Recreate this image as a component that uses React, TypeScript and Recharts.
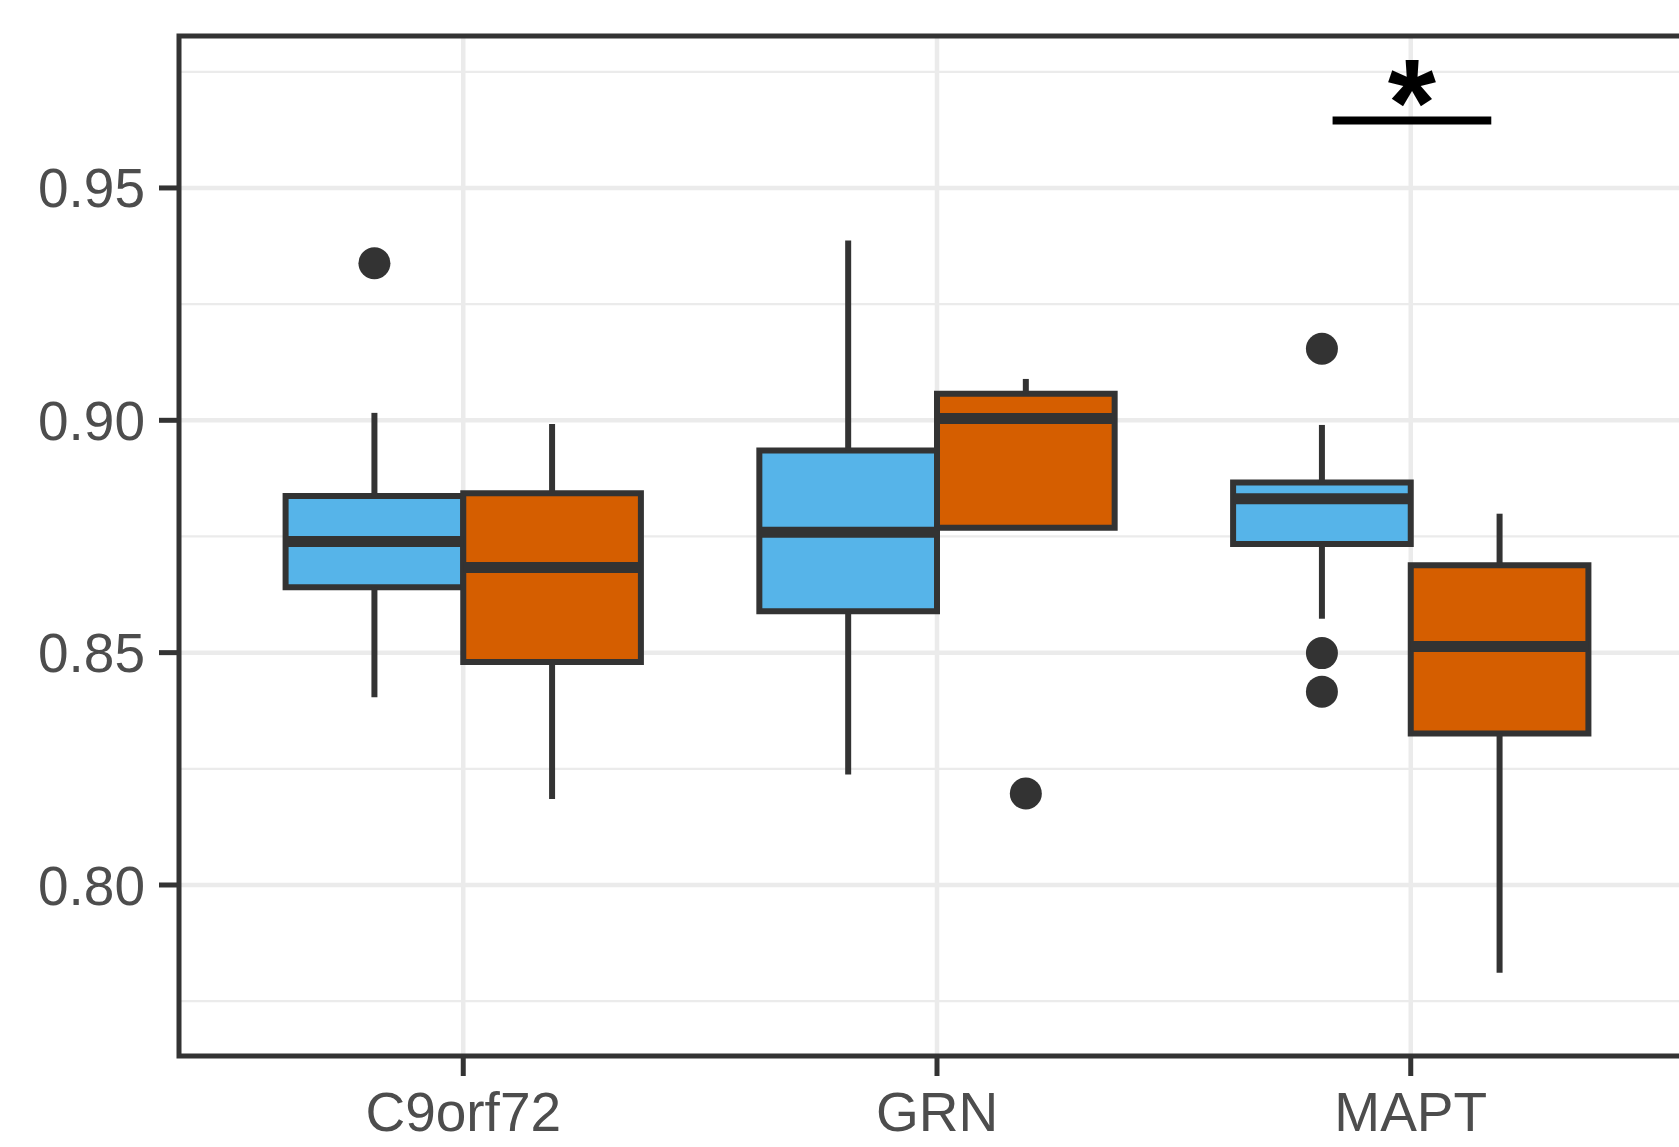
import React from 'react';
import {
  ComposedChart,
  XAxis,
  YAxis,
  CartesianGrid,
  ReferenceArea,
  ReferenceLine,
  Scatter,
} from 'recharts';

// categories on the x axis
const genes = ['C9orf72', 'GRN', 'MAPT'];

// first group (blue) box stats, one value per gene
const blueLower = [0.8404, 0.8238, 0.8573];
const blueQ1 = [0.8641, 0.8589, 0.8734];
const blueMedian = [0.8739, 0.8759, 0.8831];
const blueQ3 = [0.8837, 0.8935, 0.8866];
const blueUpper = [0.9016, 0.9387, 0.899];
const blueOutliers = [[0.9338], [], [0.9154, 0.8499, 0.8416]];

// second group (orange) box stats
const orangeLower = [0.8185, 0.8769, 0.7811];
const orangeQ1 = [0.848, 0.8769, 0.8326];
const orangeMedian = [0.8683, 0.9004, 0.8513];
const orangeQ3 = [0.8843, 0.9057, 0.8688];
const orangeUpper = [0.8992, 0.9089, 0.8799];
const orangeOutliers = [[], [0.8197], []];

// significance annotation over MAPT
const sigFrom = 2.835;
const sigTo = 3.17;
const sigY = 0.9645;
const sigLabel = '*';

// axis ticks
const yTicks = [0.8, 0.85, 0.9, 0.95];
const yMinorTicks = [0.775, 0.825, 0.875, 0.925, 0.975];
const yDomain: [number, number] = [0.7632, 0.9827];
const xDomain: [number, number] = [0.4, 3.6];

const BLUE = '#56B4E9';
const ORANGE = '#D55E00';
const INK = '#333333';
const BOX_W = 0.375;

type Box = {
  key: string;
  x1: number;
  x2: number;
  lower: number;
  q1: number;
  median: number;
  q3: number;
  upper: number;
  fill: string;
};

const boxes: Box[] = genes.flatMap((g, i) => [
  {
    key: g + '-blue',
    x1: i + 1 - BOX_W,
    x2: i + 1,
    lower: blueLower[i],
    q1: blueQ1[i],
    median: blueMedian[i],
    q3: blueQ3[i],
    upper: blueUpper[i],
    fill: BLUE,
  },
  {
    key: g + '-orange',
    x1: i + 1,
    x2: i + 1 + BOX_W,
    lower: orangeLower[i],
    q1: orangeQ1[i],
    median: orangeMedian[i],
    q3: orangeQ3[i],
    upper: orangeUpper[i],
    fill: ORANGE,
  },
]);

const outlierPoints = [
  ...blueOutliers.flatMap((vals, i) => vals.map(v => ({ x: i + 1 - BOX_W / 2, y: v }))),
  ...orangeOutliers.flatMap((vals, i) => vals.map(v => ({ x: i + 1 + BOX_W / 2, y: v }))),
];

const sigPoint = [{ x: (sigFrom + sigTo) / 2, y: sigY }];

const FONT = '"Liberation Sans", Arial, Helvetica, sans-serif';

const OutlierDot = (props: any) => (
  <circle cx={props.cx} cy={props.cy} r={16} fill={INK} />
);

const StarLabel = (props: any) => (
  <text
    x={props.cx}
    y={props.cy + 25}
    textAnchor="middle"
    fontSize={124}
    fontWeight="bold"
    fontFamily={FONT}
    fill="#000"
  >
    {sigLabel}
  </text>
);

const App: React.FC = () => {
  return (
    <div
      style={{
        position: 'absolute',
        left: 0,
        top: 0,
        width: 1679,
        height: 1147,
        overflow: 'hidden',
        background: '#fff',
      }}
    >
      <ComposedChart
        width={1720}
        height={1147}
        margin={{ top: 36, right: 25, left: 0, bottom: 0 }}
      >
        <CartesianGrid
          horizontalValues={yMinorTicks}
          vertical={false}
          stroke="#ebebeb"
          strokeWidth={2.2}
        />
        <CartesianGrid
          horizontalValues={yTicks}
          verticalValues={[1, 2, 3]}
          stroke="#ebebeb"
          strokeWidth={4.5}
        />
        <XAxis
          type="number"
          dataKey="x"
          domain={xDomain}
          ticks={[1, 2, 3]}
          tickFormatter={(v: number) => genes[v - 1] ?? ''}
          allowDataOverflow
          height={91}
          axisLine={false}
          tickLine={{ stroke: INK, strokeWidth: 5 }}
          tickSize={20}
          tickMargin={16}
          tick={{ fontSize: 55, fill: '#4d4d4d', fontFamily: FONT }}
          interval={0}
        />
        <YAxis
          type="number"
          dataKey="y"
          domain={yDomain}
          ticks={yTicks}
          tickFormatter={(v: number) => v.toFixed(2)}
          allowDataOverflow
          width={179}
          axisLine={false}
          tickLine={{ stroke: INK, strokeWidth: 5 }}
          tickSize={20}
          tickMargin={14}
          tick={{ fontSize: 55, fill: '#4d4d4d', fontFamily: FONT }}
          interval={0}
        />
        {boxes.map(b => (
          <ReferenceLine
            key={b.key + '-up'}
            segment={[
              { x: (b.x1 + b.x2) / 2, y: b.q3 },
              { x: (b.x1 + b.x2) / 2, y: b.upper },
            ]}
            stroke={INK}
            strokeWidth={6}
          />
        ))}
        {boxes.map(b => (
          <ReferenceLine
            key={b.key + '-low'}
            segment={[
              { x: (b.x1 + b.x2) / 2, y: b.q1 },
              { x: (b.x1 + b.x2) / 2, y: b.lower },
            ]}
            stroke={INK}
            strokeWidth={6}
          />
        ))}
        {boxes.map(b => (
          <ReferenceArea
            key={b.key + '-box'}
            x1={b.x1}
            x2={b.x2}
            y1={b.q1}
            y2={b.q3}
            fill={b.fill}
            fillOpacity={1}
            stroke={INK}
            strokeWidth={6}
          />
        ))}
        {boxes.map(b => (
          <ReferenceLine
            key={b.key + '-med'}
            segment={[
              { x: b.x1, y: b.median },
              { x: b.x2, y: b.median },
            ]}
            stroke={INK}
            strokeWidth={11}
          />
        ))}
        <Scatter data={outlierPoints} shape={OutlierDot} isAnimationActive={false} />
        <ReferenceLine
          segment={[
            { x: sigFrom, y: sigY },
            { x: sigTo, y: sigY },
          ]}
          stroke="#000"
          strokeWidth={8}
        />
        <Scatter data={sigPoint} shape={StarLabel} isAnimationActive={false} />
        <ReferenceArea
          x1={xDomain[0]}
          x2={xDomain[1]}
          y1={yDomain[0]}
          y2={yDomain[1]}
          fill="none"
          stroke={INK}
          strokeWidth={5}
          ifOverflow="visible"
        />
      </ComposedChart>
    </div>
  );
};

export default App;
